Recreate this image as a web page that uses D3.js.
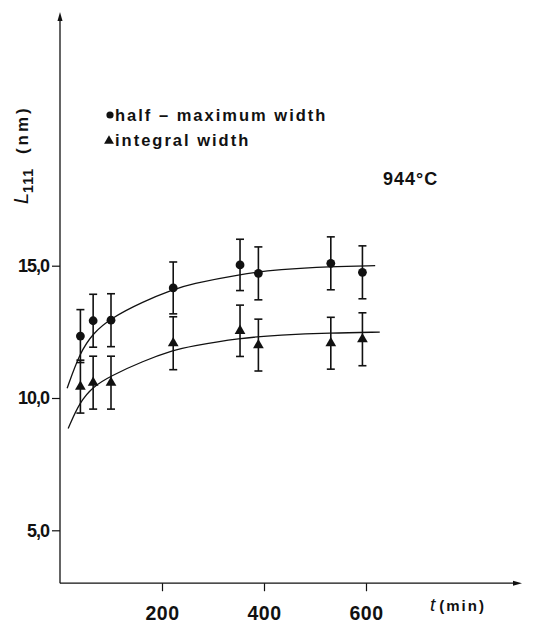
<!DOCTYPE html>
<html>
<head>
<meta charset="utf-8">
<script src="https://cdn.jsdelivr.net/npm/d3@7"></script>
<style>
  body { margin: 0; background: #fff; }
  text { font-family: "Liberation Sans", Arial, sans-serif; font-weight: bold; fill: #111; }
</style>
</head>
<body>
<svg id="chart"></svg>
<script>
// measured points (t in min)
let times = [40, 65, 100, 222, 353, 389, 531, 593]
let halfMax = [12.34, 12.92, 12.94, 14.16, 15.03, 14.71, 15.09, 14.75]
let halfMaxErr = [1.0, 1.0, 1.0, 0.98, 0.97, 1.0, 1.0, 1.0]
let integral = [10.43, 10.58, 10.58, 12.07, 12.54, 12.0, 12.07, 12.22]
let integralErr = [1.0, 1.0, 1.0, 1.0, 0.97, 0.98, 0.98, 1.0]

// fitted curves
let curveT = [14, 39, 65, 98, 163, 222, 255, 353, 431, 529, 618]
let halfMaxCurve = [10.37, 11.72, 12.45, 13.0, 13.65, 14.1, 14.3, 14.68, 14.86, 14.97, 15.0]
let curveT2 = [16, 39, 65, 98, 163, 222, 255, 353, 431, 529, 627]
let integralCurve = [8.85, 9.86, 10.43, 10.82, 11.4, 11.8, 11.95, 12.27, 12.38, 12.46, 12.49]

let xTicks = [200, 400, 600]
let yTicks = [5, 10, 15]

let width = 536, height = 625

let svg = d3.select('#chart').attr('width', width).attr('height', height)

let xScale = d3.scaleLinear().domain([0, 600]).range([60, 366])
let yScale = d3.scaleLinear().domain([5, 15]).range([530.3, 265.7])

let x0 = xScale(0), y0 = yScale(3)
let xEnd = 522, yTop = 12

// axis lines with arrows
svg.append('line').attr('x1', x0).attr('x2', x0).attr('y1', y0).attr('y2', yTop + 6)
    .attr('stroke', '#111').attr('stroke-width', 1.3)
svg.append('path').attr('d', `M${x0},${yTop} L${x0 - 2.5},${yTop + 9} L${x0 + 2.5},${yTop + 9} Z`).attr('fill', '#111')
svg.append('line').attr('x1', x0).attr('x2', xEnd - 6).attr('y1', y0).attr('y2', y0)
    .attr('stroke', '#111').attr('stroke-width', 1.3)
svg.append('path').attr('d', `M${xEnd},${y0} L${xEnd - 9},${y0 - 2.5} L${xEnd - 9},${y0 + 2.5} Z`).attr('fill', '#111')

// y axis
let yAxis = d3.axisLeft(yScale).tickValues(yTicks).tickSize(8).tickPadding(3)
    .tickFormat(d => d3.format('.1f')(d).replace('.', ','))
let gy = svg.append('g').attr('transform', `translate(${x0},0)`).call(yAxis)
gy.select('.domain').remove()
gy.selectAll('line').attr('stroke', '#111').attr('stroke-width', 1.2)
gy.selectAll('text').style('font-size', '18px').attr('letter-spacing', '-1px')

// x axis
let xAxis = d3.axisBottom(xScale).tickValues(xTicks).tickSize(8).tickPadding(15)
let gx = svg.append('g').attr('transform', `translate(0,${y0})`).call(xAxis)
gx.select('.domain').remove()
gx.selectAll('line').attr('stroke', '#111').attr('stroke-width', 1.2)
gx.selectAll('text').style('font-size', '19.5px').attr('letter-spacing', '0.5px')

// axis titles
svg.append('text')
    .attr('transform', 'translate(28,204) rotate(-90)')
    .style('font-size', '17px')
    .html('<tspan font-style="italic" font-weight="normal" font-size="20px">L</tspan><tspan dy="5" font-size="14px" letter-spacing="1px">111</tspan><tspan dy="-5" letter-spacing="3px" dx="14">(nm)</tspan>')

svg.append('text').attr('x', 430).attr('y', 611).style('font-size', '16px')
    .html('<tspan font-style="italic" font-weight="normal" font-size="19px">t</tspan><tspan font-size="15px" letter-spacing="2px" dx="4">(min)</tspan>')

svg.append('text').attr('x', 383).attr('y', 185).style('font-size', '18px')
    .attr('letter-spacing', '1px').text('944°C')

// legend
svg.append('circle').attr('cx', 110).attr('cy', 115).attr('r', 3.6).attr('fill', '#111')
svg.append('text').attr('x', 115).attr('y', 121).style('font-size', '16.5px')
    .attr('letter-spacing', '2px').text('half – maximum width')
svg.append('path').attr('d', d3.symbol(d3.symbolTriangle, 42)()).attr('transform', 'translate(109,141)').attr('fill', '#111')
svg.append('text').attr('x', 115).attr('y', 146).style('font-size', '16.5px')
    .attr('letter-spacing', '2px').text('integral width')

// fitted curves
let line = d3.line().curve(d3.curveBasis)
svg.append('path')
    .attr('d', line(curveT.map((t, i) => [xScale(t), yScale(halfMaxCurve[i])])))
    .attr('fill', 'none').attr('stroke', '#111').attr('stroke-width', 1.3)
svg.append('path')
    .attr('d', line(curveT2.map((t, i) => [xScale(t), yScale(integralCurve[i])])))
    .attr('fill', 'none').attr('stroke', '#111').attr('stroke-width', 1.3)

// error bars
function errorBars(vals, errs) {
    let g = svg.append('g').attr('stroke', '#111').attr('stroke-width', 1.6)
    times.forEach((t, i) => {
        let cx = xScale(t), top = yScale(vals[i] + errs[i]), bot = yScale(vals[i] - errs[i])
        g.append('line').attr('x1', cx).attr('x2', cx).attr('y1', top).attr('y2', bot)
        g.append('line').attr('x1', cx - 4).attr('x2', cx + 4).attr('y1', top).attr('y2', top)
        g.append('line').attr('x1', cx - 4).attr('x2', cx + 4).attr('y1', bot).attr('y2', bot)
    })
}
errorBars(halfMax, halfMaxErr)
errorBars(integral, integralErr)

svg.selectAll('circle.pt').data(times).enter().append('circle')
    .attr('class', 'pt')
    .attr('cx', d => xScale(d))
    .attr('cy', (d, i) => yScale(halfMax[i]))
    .attr('r', 4.4).attr('fill', '#111')

svg.selectAll('path.tri').data(times).enter().append('path')
    .attr('class', 'tri')
    .attr('d', d3.symbol(d3.symbolTriangle, 50)())
    .attr('transform', (d, i) => `translate(${xScale(d)},${yScale(integral[i])})`)
    .attr('fill', '#111')
</script>
</body>
</html>
